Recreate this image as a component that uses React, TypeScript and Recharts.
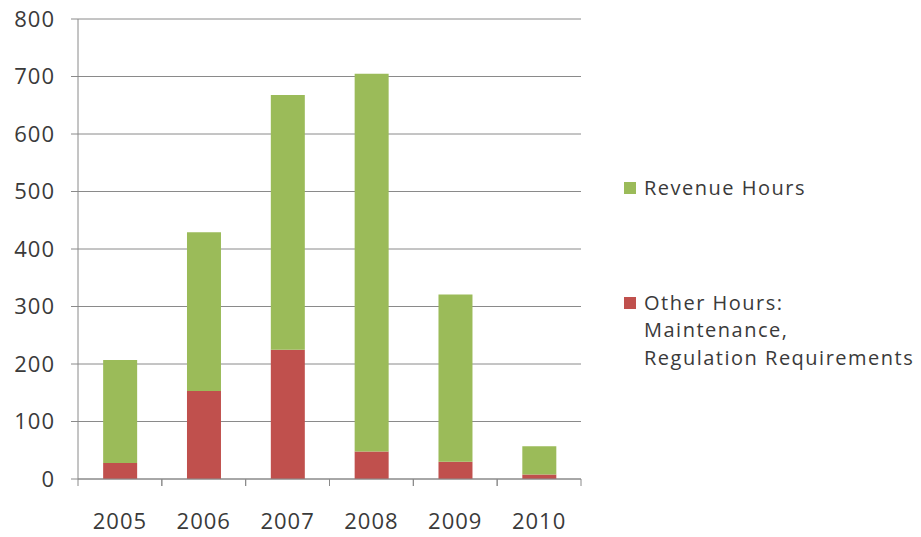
import { Bar, BarChart, CartesianGrid, XAxis, YAxis } from "recharts";

const YEARS = ["2005", "2006", "2007", "2008", "2009", "2010"];
const OTHER_HOURS = [28, 153, 225, 48, 30, 8];
const REVENUE_HOURS = [179, 276, 443, 657, 291, 49];
const Y_TICKS = [0, 100, 200, 300, 400, 500, 600, 700, 800];

const GREEN = "#9bbb59";
const RED = "#c0504d";
const AXIS = "#8a8a8a";
const TEXT = "#3a3a3a";
const FONT = "'Open Sans', sans-serif";

const data = YEARS.map((year, i) => ({
  year,
  other: OTHER_HOURS[i],
  revenue: REVENUE_HOURS[i],
}));

function YearTick(props: any) {
  const { x, y, payload } = props;
  const half = payload.offset ?? 0;
  return (
    <g>
      <line x1={x - half} x2={x - half} y1={y} y2={y + 7} stroke={AXIS} />
      <line x1={x + half} x2={x + half} y1={y} y2={y + 7} stroke={AXIS} />
      <text
        x={x}
        y={y + 50}
        textAnchor="middle"
        fill={TEXT}
        fontSize={22}
        letterSpacing={1}
        fontFamily={FONT}
      >
        {payload.value}
      </text>
    </g>
  );
}

function LegendItem({ color, lines }: { color: string; lines: string[] }) {
  return (
    <div style={{ display: "flex", alignItems: "flex-start" }}>
      <div
        style={{
          width: 12,
          height: 12,
          background: color,
          marginTop: 8,
          marginRight: 8,
          flexShrink: 0,
        }}
      />
      <div>
        {lines.map((l) => (
          <div key={l}>{l}</div>
        ))}
      </div>
    </div>
  );
}

export default function App() {
  return (
    <div style={{ position: "absolute", left: 0, top: 0, width: 921, height: 537, background: "#fff" }}>
      <BarChart
        width={921}
        height={537}
        data={data}
        margin={{ top: 19, right: 340, bottom: 0, left: 0 }}
        barCategoryGap="30%"
      >
        <CartesianGrid vertical={false} stroke={AXIS} strokeWidth={1} />
        <XAxis
          dataKey="year"
          height={58}
          stroke={AXIS}
          tickLine={false}
          tickSize={0}
          tickMargin={0}
          tick={<YearTick />}
          interval={0}
        />
        <YAxis
          width={78}
          domain={[0, 800]}
          ticks={Y_TICKS}
          stroke={AXIS}
          tickSize={7}
          tickMargin={16}
          interval={0}
          tick={{ fill: TEXT, fontSize: 22, fontFamily: FONT, letterSpacing: 1 }}
        />
        <Bar dataKey="other" stackId="a" fill={RED} isAnimationActive={false} />
        <Bar dataKey="revenue" stackId="a" fill={GREEN} isAnimationActive={false} />
      </BarChart>
      <div
        style={{
          position: "absolute",
          left: 624,
          top: 174,
          fontFamily: FONT,
          fontSize: 20,
          letterSpacing: 1.5,
          lineHeight: "27.5px",
          color: TEXT,
          whiteSpace: "nowrap",
        }}
      >
        <LegendItem color={GREEN} lines={["Revenue Hours"]} />
        <div style={{ height: 87 }} />
        <LegendItem color={RED} lines={["Other Hours:", "Maintenance,", "Regulation Requirements"]} />
      </div>
    </div>
  );
}
